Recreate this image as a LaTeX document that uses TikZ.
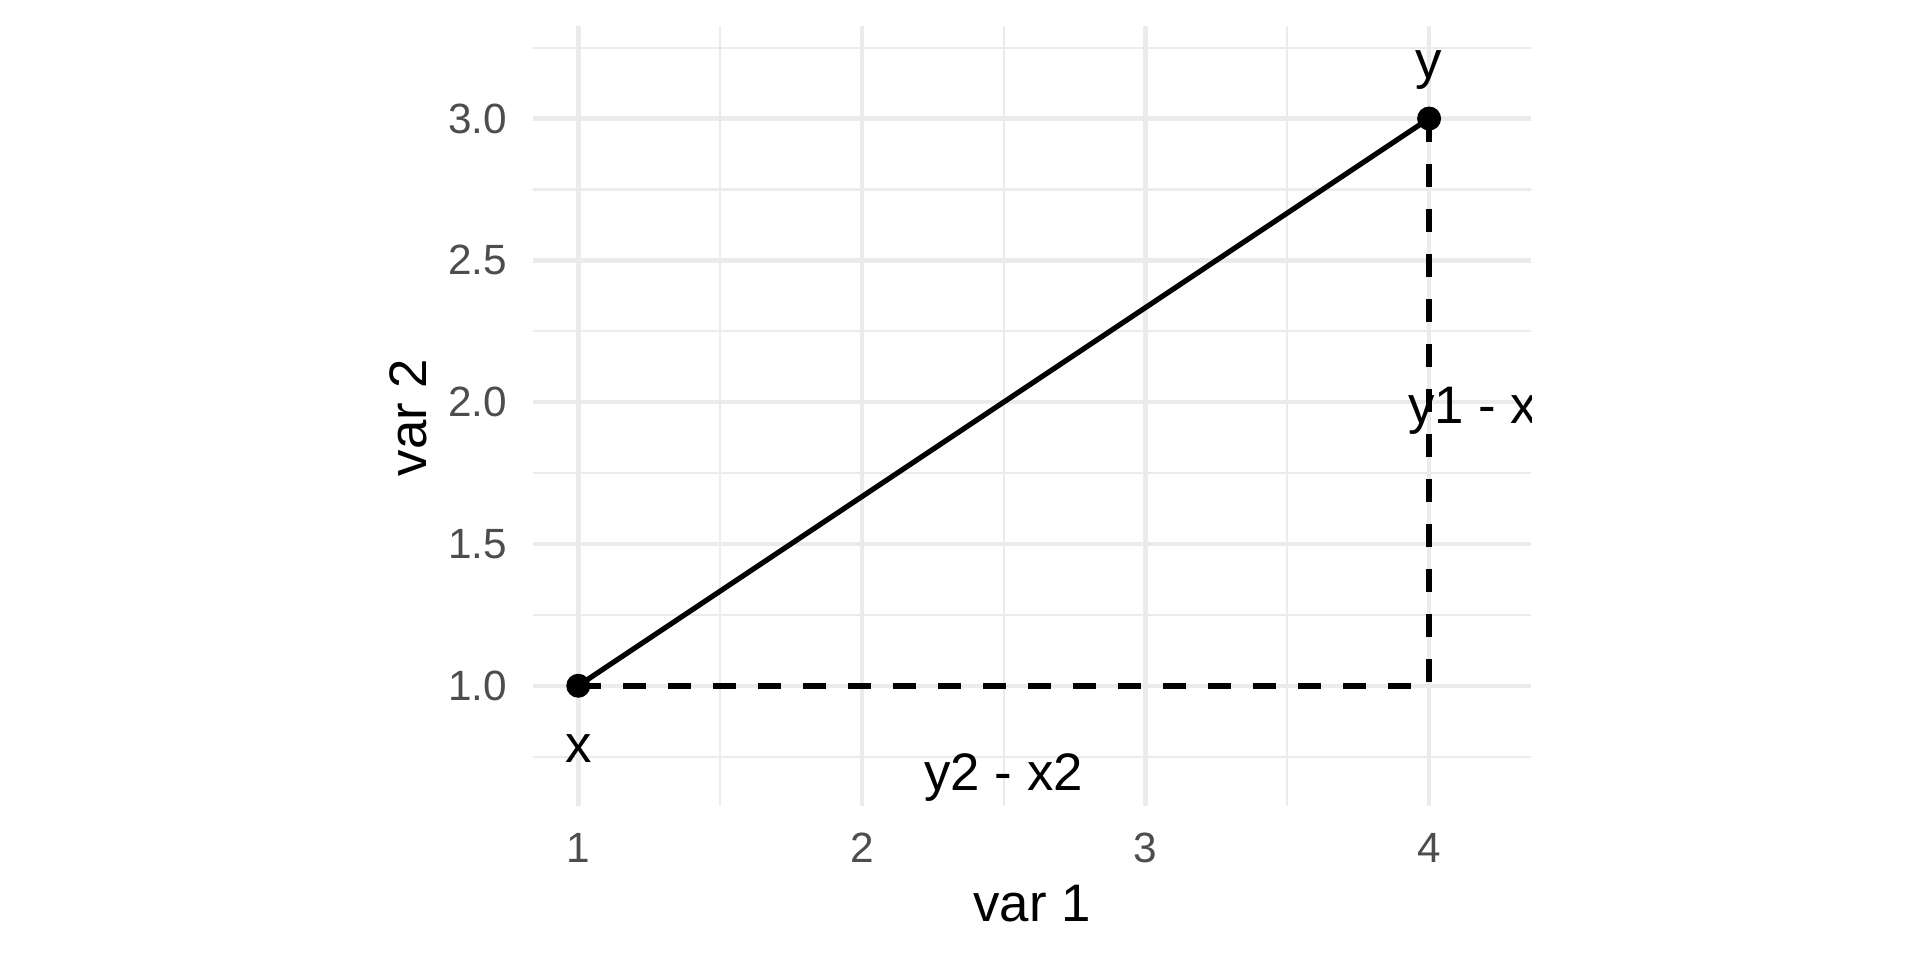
\documentclass[tikz,border=0pt]{standalone}
\usepackage{fontspec}
\setmainfont{Liberation Sans}
\definecolor{grid92}{HTML}{EBEBEB}
\definecolor{gray30}{HTML}{4D4D4D}
\begin{document}
\begin{tikzpicture}[x=283.6pt,y=283.6pt,
  majorgrid/.style={draw=grid92, line width=4.5pt},
  minorgrid/.style={draw=grid92, line width=2.2pt},
  ticklab/.style={text=gray30, font=\fontsize{42.3}{50}\selectfont, inner sep=0pt},
  axttl/.style={font=\fontsize{52.8}{62}\selectfont, inner sep=0pt, anchor=base},
  ptlab/.style={font=\fontsize{52.8}{62}\selectfont, inner sep=0pt, anchor=base},
  dotnode/.style={circle, fill=black, minimum size=24pt, inner sep=0pt},
  seg/.style={line width=5.2pt},
  dsh/.style={line width=5.5pt, dash pattern=on 23pt off 22pt}]
\useasboundingbox (-1.039,0.033) rectangle (5.731,3.418);
% minor grid
\foreach \y in {0.75,1.25,1.75,2.25,2.75,3.25}
  \draw[minorgrid] (0.84,\y) -- (4.36,\y);
\foreach \x in {1.5,2.5,3.5}
  \draw[minorgrid] (\x,0.575) -- (\x,3.325);
% major grid
\foreach \y in {1,1.5,2,2.5,3}
  \draw[majorgrid] (0.84,\y) -- (4.36,\y);
\foreach \x in {1,2,3,4}
  \draw[majorgrid] (\x,0.575) -- (\x,3.325);
% tick labels
\foreach \y/\t [count=\i] in {1/1.0,1.5/1.5,2/2.0,2.5/2.5,3/3.0}
  \node[ticklab, anchor=east] (ytick\i) at (0.7497,\y) {\t};
\foreach \x [count=\i] in {1,2,3,4}
  \node[ticklab, anchor=base] (xtick\i) at (\x,0.378) {\x};
% axis titles
\node[axttl] (xtitle) at (2.60,0.167) {var 1};
\node[axttl, rotate=90] (ytitle) at (0.4654,1.946) {var 2};
% data
\coordinate (xp) at (1,1);
\coordinate (yp) at (4,3);
\coordinate (corner) at (4,1);
\draw[seg] (xp) -- (yp);
\draw[dsh] (xp) -- (corner);
\draw[dsh] (yp) -- (corner);
\node[dotnode] (xdot) at (xp) {};
\node[dotnode] (ydot) at (yp) {};
% labels
\node[ptlab] (ylab) at (4,3.142) {y};
\node[ptlab] (xlab) at (1,0.731) {x};
\node[ptlab] (hlab) at (2.5,0.630) {y2 - x2};
\begin{scope}
  \clip (0.84,0.575) rectangle (4.362,3.325);
  \node[ptlab, anchor=base west] (vlab) at (3.925,1.925) {y1 - x};
\end{scope}
\end{tikzpicture}
\end{document}
